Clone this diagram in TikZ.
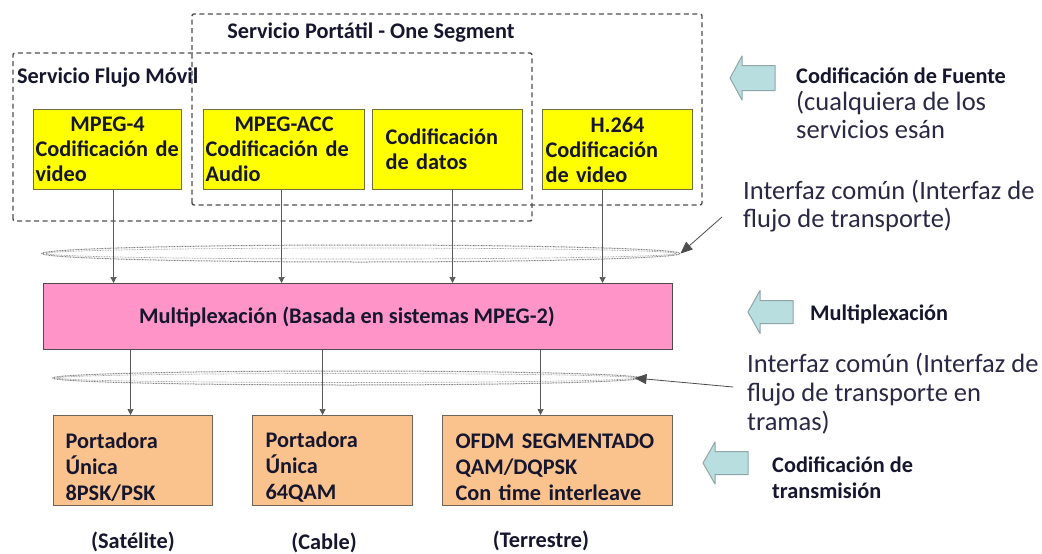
\documentclass[tikz,border=0pt]{standalone}
\usepackage{fontspec}
\setmainfont{Carlito}
\usetikzlibrary{arrows.meta,shapes.geometric}

\definecolor{yfill}{HTML}{FFFF00}
\definecolor{yline}{HTML}{6E6E3C}
\definecolor{pfill}{HTML}{FF94C8}
\definecolor{ofill}{HTML}{FAC38E}
\definecolor{oline}{HTML}{6E6458}
\definecolor{bfill}{HTML}{B9DEE0}
\definecolor{bline}{HTML}{8FA6A8}
\definecolor{txtdark}{HTML}{16162E}
\definecolor{txtsoft}{HTML}{2A2844}
\definecolor{dashgray}{HTML}{505050}

\begin{document}
\begin{tikzpicture}[x=1pt,y=-1pt,
  boldtxt/.style={font=\bfseries\fontsize{22.3}{25}\selectfont, text=txtdark},
  softtxt/.style={font=\fontsize{26.5}{27.5}\selectfont, text=txtsoft},
  ybox/.style={draw=yline, fill=yfill, line width=1.1pt, boldtxt, align=left,
    anchor=north west, minimum height=80, inner ysep=0},
  obox/.style={draw=oline, fill=ofill, line width=1.1pt, boldtxt,
    font=\bfseries\fontsize{22.3}{26}\selectfont, align=left,
    anchor=north west, minimum height=90, inner ysep=0},
  svcbox/.style={draw=dashgray, line width=1.4pt, dash pattern=on 5pt off 3.5pt},
  ifaz/.style={ellipse, draw=black!50, line width=1pt, dash pattern=on 0.9pt off 0.7pt, inner sep=0},
  conn/.style={draw=black!65, line width=0.7pt, -{Triangle[length=6pt,width=6pt]}},
  leader/.style={draw=black!70, line width=0.8pt, -{Triangle[length=12pt,width=10pt]}},
  barrow/.style={draw=bline, fill=bfill, line width=1pt, line join=round},
  plain/.style={inner sep=0, anchor=base west}
]
\useasboundingbox[fill=white] (0,0) rectangle (1042,554);

% service groupings (dashed)
\draw[svcbox, rounded corners=2pt] (192,205) -- (192,14) -- (702,14) -- (702,205) -- cycle;
\draw[svcbox, rounded corners=2pt] (13,221) -- (13,53) -- (532,53) -- (532,221) -- cycle;
\node[plain, boldtxt, anchor=base] (tport) at (371,38) {Servicio Portátil - One Segment};
\node[plain, boldtxt] (tflujo) at (17,83) {Servicio Flujo Móvil};

% source coders
\node[ybox, minimum width=148, inner xsep=2, text width=144] (m4) at (33,109)
  {\makebox[\linewidth]{MPEG-4}\\\mbox{Codificación de}\\video};
\node[ybox, minimum width=161, inner xsep=2, text width=157] (acc) at (203,109)
  {\makebox[\linewidth]{MPEG-ACC}\\\mbox{Codificación de}\\Audio};
\node[ybox, minimum width=150, inner xsep=13, text width=124] (dat) at (372,109)
  {Codificación\\\mbox{de datos}};
\node[ybox, minimum width=150, inner xsep=3, text width=144] (h264) at (542,109)
  {\makebox[\linewidth]{H.264}\\Codificación\\\mbox{de video}};

% transport stream interfaces
\node[ifaz, minimum width=638, minimum height=17] (if1) at (361,253.5) {};
\draw[black!40, line width=0.7pt, dash pattern=on 0.8pt off 0.8pt] (if1.center) ellipse [x radius=315, y radius=5.5];
\node[ifaz, minimum width=587, minimum height=14] (if2) at (346.5,378) {};
\draw[black!40, line width=0.7pt, dash pattern=on 0.8pt off 0.8pt] (if2.center) ellipse [x radius=289, y radius=4.5];

% multiplexer
\node[draw=black!70, fill=pfill, line width=1.1pt, anchor=north west,
  minimum width=629, minimum height=66] (mux) at (43,283) {};
\node[boldtxt, inner sep=0] (muxlbl) at ([xshift=-11pt]mux.center)
  {Multiplexación (Basada en sistemas MPEG-2)};

% transmission coders
\node[obox, minimum width=159, inner xsep=12, text width=135] (sat) at (53,415)
  {\rule{0pt}{28pt}Portadora\\Única\\8PSK/PSK};
\node[obox, minimum width=160, inner xsep=13, text width=134] (cab) at (252,415)
  {\rule{0pt}{28pt}Portadora\\Única\\64QAM};
\node[obox, minimum width=230, inner xsep=13, text width=204] (ter) at (442,415)
  {\rule{0pt}{28pt}\mbox{OFDM SEGMENTADO}\\QAM/DQPSK\\\mbox{Con time interleave}};

\node[plain, boldtxt, anchor=base] (lsat) at (133,548) {(Satélite)};
\node[plain, boldtxt, anchor=base] (lcab) at (324,549) {(Cable)};
\node[plain, boldtxt, anchor=base] (lter) at (541,547) {(Terrestre)};

% flows into the multiplexer
\draw[conn] ([xshift=6pt]m4.south) -- ([xshift=6pt]m4.south |- mux.north);
\draw[conn] ([xshift=-2.5pt]acc.south) -- ([xshift=-2.5pt]acc.south |- mux.north);
\draw[conn] ([xshift=5pt]dat.south) -- ([xshift=5pt]dat.south |- mux.north);
\draw[conn] ([xshift=-15pt]h264.south) -- ([xshift=-15pt]h264.south |- mux.north);

% flows out of the multiplexer
\draw[conn] ([xshift=-2.5pt]sat.north |- mux.south) -- ([xshift=-2.5pt]sat.north);
\draw[conn] ([xshift=-10pt]cab.north |- mux.south) -- ([xshift=-10pt]cab.north);
\draw[conn] ([xshift=-17pt]ter.north |- mux.south) -- ([xshift=-17pt]ter.north);

% layer markers on the right
\coordinate (b1) at (730,78);
\draw[barrow] (b1) -- ++(12,-22) -- ++(0,9.5) -- ++(33,0) -- ++(0,25) -- ++(-33,0) -- ++(0,9.5) -- cycle;
\coordinate (b2) at (748,312);
\draw[barrow] (b2) -- ++(12,-21.5) -- ++(0,10) -- ++(33,0) -- ++(0,23) -- ++(-33,0) -- ++(0,10) -- cycle;
\coordinate (b3) at (703,463);
\draw[barrow] (b3) -- ++(12,-21) -- ++(0,9.5) -- ++(33,0) -- ++(0,23) -- ++(-33,0) -- ++(0,9.5) -- cycle;

% layer descriptions (multi-line nodes sit on the baseline of their last line)
\node[plain, boldtxt] (fuente) at (796,83) {Codificación de Fuente};
\node[plain, softtxt, align=left] (fnota) at (796,138) {(cualquiera de los\\servicios esán};
\node[plain, softtxt, align=left] (ts1) at (743,227) {Interfaz común (Interfaz de\\flujo de transporte)};
\node[plain, boldtxt] (tmux) at (810,320) {Multiplexación};
\node[plain, softtxt, align=left, font=\fontsize{26.5}{29}\selectfont] (ts2) at (747,430)
  {Interfaz común (Interfaz de\\flujo de transporte en\\tramas)};
\node[plain, boldtxt, align=left, font=\bfseries\fontsize{22.3}{26}\selectfont] (ttx) at (772,498)
  {Codificación de\\transmisión};

% pointers to the interfaces
\coordinate (p1) at (722,217);
\draw[leader] (p1) -- (if1.east);
\coordinate (p2) at (733,387);
\draw[leader] (p2) -- ([xshift=-6pt]if2.east);
\end{tikzpicture}
\end{document}
